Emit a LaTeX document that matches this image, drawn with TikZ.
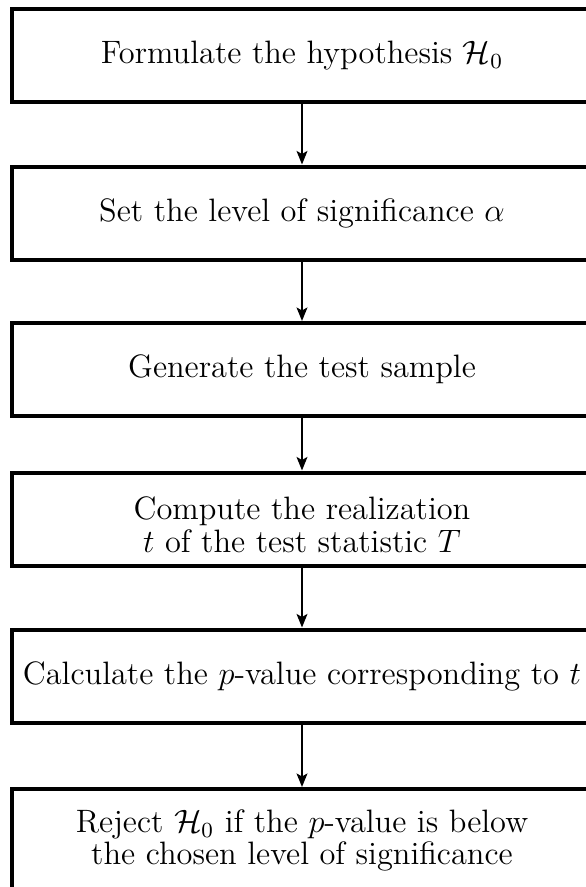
\documentclass[tikz,border=0pt]{standalone}
\usetikzlibrary{arrows.meta}
% one drawing unit = 1/2.7 pt
\def\pxu{0.37037pt}
\tikzset{
  stepbox/.style={draw, rectangle, line width={4*\pxu}, inner sep=0pt,
    minimum width={580*\pxu}, minimum height={93*\pxu}, align=center,
    font=\fontsize{12}{12}\selectfont},
  flow/.style={line width={2*\pxu}, -{Stealth[length=5pt,width=4pt,inset=1.1pt]}}
}
\begin{document}
\begin{tikzpicture}[x=\pxu, y=-\pxu]
  \useasboundingbox (0,0) rectangle (586,887);
  \node[stepbox] (hyp) at (302,55.5) {Formulate the hypothesis $\mathcal{H}_0$};
  \node[stepbox] (sig) at (302,213) {Set the level of significance $\alpha$};
  \node[stepbox] (sam) at (302,369.5) {Generate the test sample};
  \node[stepbox] (real) at (302,519) {\rule{0pt}{12.7pt}Compute the realization\\ $t$ of the test statistic $T$};
  \node[stepbox] (pval) at (302,676) {Calculate the $p$-value corresponding to $t$};
  \node[stepbox, minimum height=0pt, inner ysep=7.6pt, anchor=north] (rej) at (302,787)
    {Reject $\mathcal{H}_0$ if the $p$-value is below\\ the chosen level of significance\rule[-20pt]{0pt}{20pt}};
  \draw[flow] (hyp) -- (sig);
  \draw[flow] (sig) -- (sam);
  \draw[flow] (sam) -- (real);
  \draw[flow] (real) -- (pval);
  \draw[flow] (pval) -- (rej);
\end{tikzpicture}
\end{document}
